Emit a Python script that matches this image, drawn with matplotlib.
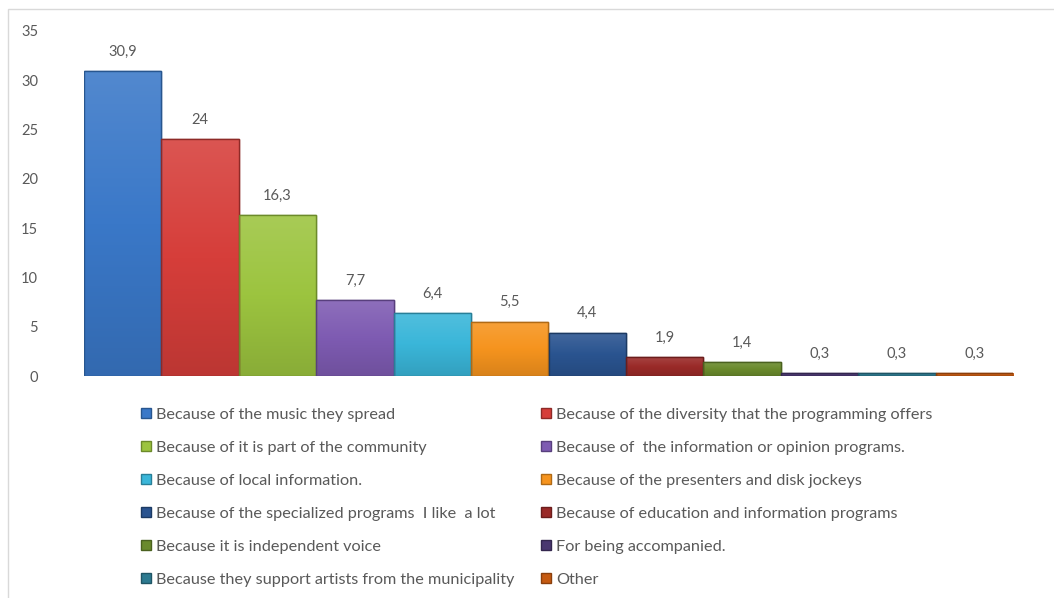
import matplotlib
matplotlib.use("Agg")
import matplotlib.pyplot as plt
import numpy as np
from matplotlib.patches import Rectangle, Patch
from matplotlib.colors import LinearSegmentedColormap, to_rgb

categories = [
    "Because of the music they spread",
    "Because of the diversity that the programming offers",
    "Because of it is part of the community",
    "Because of  the information or opinion programs.",
    "Because of local information.",
    "Because of the presenters and disk jockeys",
    "Because of the specialized programs  I like  a lot",
    "Because of education and information programs",
    "Because it is independent voice",
    "For being accompanied.",
    "Because they support artists from the municipality",
    "Other",
]
values = [30.9, 24, 16.3, 7.7, 6.4, 5.5, 4.4, 1.9, 1.4, 0.3, 0.3, 0.3]
colors = ["#3A78C8", "#D63E3A", "#9CC43F", "#7E5BB2", "#3AB6D9", "#F6941E",
          "#2A5490", "#9A2A28", "#6A8A2C", "#4A3770", "#2D7A90", "#C55A11"]
edges = ["#28568F", "#8E2A27", "#6C8A2A", "#583F7D", "#287F98", "#B06A15",
         "#1C3A63", "#6B1D1C", "#4A611F", "#33264E", "#1F5565", "#8A3F0C"]
yticks = [0, 5, 10, 15, 20, 25, 30, 35]

plt.rcParams['font.family'] = ['Lato', 'DejaVu Sans']
text_color = "#595959"

fig = plt.figure(figsize=(10.54, 5.98), dpi=100)
fig.patches.append(Rectangle((8/1054, -0.02), 1.05, 1 - 9/598 + 0.02,
                             transform=fig.transFigure, fill=False,
                             edgecolor="#D9D9D9", linewidth=1))

ax = fig.add_axes([84/1054, 1 - 376/598, (1013-84)/1054, (376-31)/598])
x = list(range(len(values)))
bars = ax.bar(x, values, width=1.0, color=colors, edgecolor=edges, linewidth=1)

def shade(c, f):
    r = np.array(to_rgb(c))
    if f > 0:
        return tuple(r + (1 - r) * f)
    return tuple(r * (1 + f))

for b, c in zip(bars, colors):
    cmap = LinearSegmentedColormap.from_list("g", [shade(c, -0.12), c, shade(c, 0.12)])
    grad = np.linspace(0, 1, 64).reshape(-1, 1)
    bx, by = b.get_x(), b.get_y()
    im = ax.imshow(grad, extent=(bx, bx + b.get_width(), by, by + b.get_height()),
                   origin="lower", cmap=cmap, aspect="auto", zorder=b.get_zorder() + 0.1,
                   interpolation="bilinear")
    im.set_clip_path(b)
    ax.add_patch(Rectangle((bx, by), b.get_width(), b.get_height(), fill=False,
                           edgecolor=b.get_edgecolor(), linewidth=1,
                           zorder=b.get_zorder() + 0.2))

ax.set_xlim(-0.5, len(values) - 0.5)
ax.set_ylim(0, 35)
ax.set_yticks(yticks)
ax.set_yticklabels([str(t) for t in yticks], color=text_color, fontsize=10.5)
ax.tick_params(axis='y', length=0, pad=33)
ax.set_xticks([])
for s in ax.spines.values():
    s.set_visible(False)

def fmt(v):
    return ("%g" % v).replace(".", ",")

ax.bar_label(bars, labels=[fmt(v) for v in values], padding=9,
             color=text_color, fontsize=10.5)

handles = [Patch(facecolor=c, edgecolor=e) for c, e in zip(colors, edges)]
leg_kw = dict(frameon=False, fontsize=11.7, labelcolor=text_color,
              handlelength=0.6, handleheight=0.6, handletextpad=0.35,
              labelspacing=1.17, borderpad=0, borderaxespad=0)
l1 = fig.legend(handles[0::2], categories[0::2], loc="upper left",
                bbox_to_anchor=(141/1054, 1 - 408/598), **leg_kw)
l2 = fig.legend(handles[1::2], categories[1::2], loc="upper left",
                bbox_to_anchor=(541/1054, 1 - 408/598), **leg_kw)

fig.savefig("out.png", dpi=100, facecolor="white")
